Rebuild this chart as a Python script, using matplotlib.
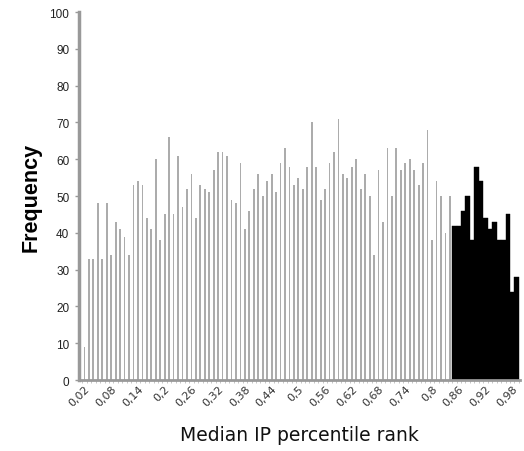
import matplotlib
matplotlib.use("Agg")
import matplotlib.pyplot as plt
import matplotlib.transforms as mtransforms
import numpy as np

# Category values (median IP percentile rank), 0.02 .. 0.99
categories = [round(0.02 + 0.01 * i, 2) for i in range(98)]

# Frequencies of the gray (lower ranks) series
gray_values = [9, 33, 33, 48, 33, 48, 34, 43, 41, 39, 34, 53, 54, 53, 44, 41, 60, 38, 45, 66,
               45, 61, 47, 52, 56, 44, 53, 52, 51, 57, 62, 62, 61, 49, 48, 59, 41, 46, 52, 56,
               50, 54, 56, 51, 59, 63, 58, 53, 55, 52, 58, 70, 58, 49, 52, 59, 62, 71, 56, 55,
               58, 60, 52, 56, 50, 34, 57, 43, 63, 50, 63, 57, 59, 60, 57, 53, 59, 68, 38, 54,
               50, 40, 50]
# Frequencies of the black (top ranks) series
black_values = [42, 42, 46, 50, 38, 58, 54, 44, 41, 43, 38, 38, 45, 24, 28]

tick_labels = ["0,02", "0,08", "0,14", "0,2", "0,26", "0,32", "0,38", "0,44", "0,5",
               "0,56", "0,62", "0,68", "0,74", "0,8", "0,86", "0,92", "0,98"]

fig = plt.figure(figsize=(5.24, 4.52), dpi=100)
ax = fig.add_axes([0.151, 0.157, 0.841, 0.814])

n_gray = len(gray_values)
x_gray = np.arange(n_gray)
x_black = np.arange(n_gray, n_gray + len(black_values))

ax.bar(x_gray, gray_values, width=0.4, color="#acacac", edgecolor="none")
ax.bar(x_black, black_values, width=1.0, color="black", edgecolor="black", linewidth=0.3)

ax.set_xlim(-1.2, 97.7)
ax.set_ylim(0, 100)
ax.set_yticks(np.arange(0, 101, 10))
ax.tick_params(axis="y", labelsize=8.5, length=3, color="#999999", width=1, pad=4,
               labelcolor="#222222")
for lab in ax.get_yticklabels():
    lab.set_family("Liberation Sans")

label_pos = [categories.index(round(float(t.replace(",", ".")), 2)) for t in tick_labels]
ax.set_xticks(label_pos)
ax.set_xticklabels(tick_labels, rotation=45, ha="right", va="top", rotation_mode="anchor",
                   fontsize=8, color="#333333", family="DejaVu Sans")
offset = mtransforms.ScaledTranslation(-0.05, 0.01, fig.dpi_scale_trans)
for lab in ax.get_xticklabels():
    lab.set_transform(lab.get_transform() + offset)
ax.set_xticks(np.arange(-0.5, 98, 1), minor=True)
ax.tick_params(axis="x", which="major", length=0, pad=2)
ax.tick_params(axis="x", which="minor", length=2, color="#bbbbbb", width=0.6)

for s in ["top", "right"]:
    ax.spines[s].set_visible(False)
ax.spines["left"].set_color("#999999")
ax.spines["left"].set_linewidth(2.5)
ax.spines["bottom"].set_color("#999999")
ax.spines["bottom"].set_linewidth(2)

ax.set_ylabel("Frequency", fontsize=15.5, fontweight="bold", family="Liberation Sans", labelpad=6)
ax.set_xlabel("Median IP percentile rank", fontsize=13.5, family="DejaVu Sans", labelpad=13,
              color="#111111")

fig.savefig("out.png", dpi=100)
